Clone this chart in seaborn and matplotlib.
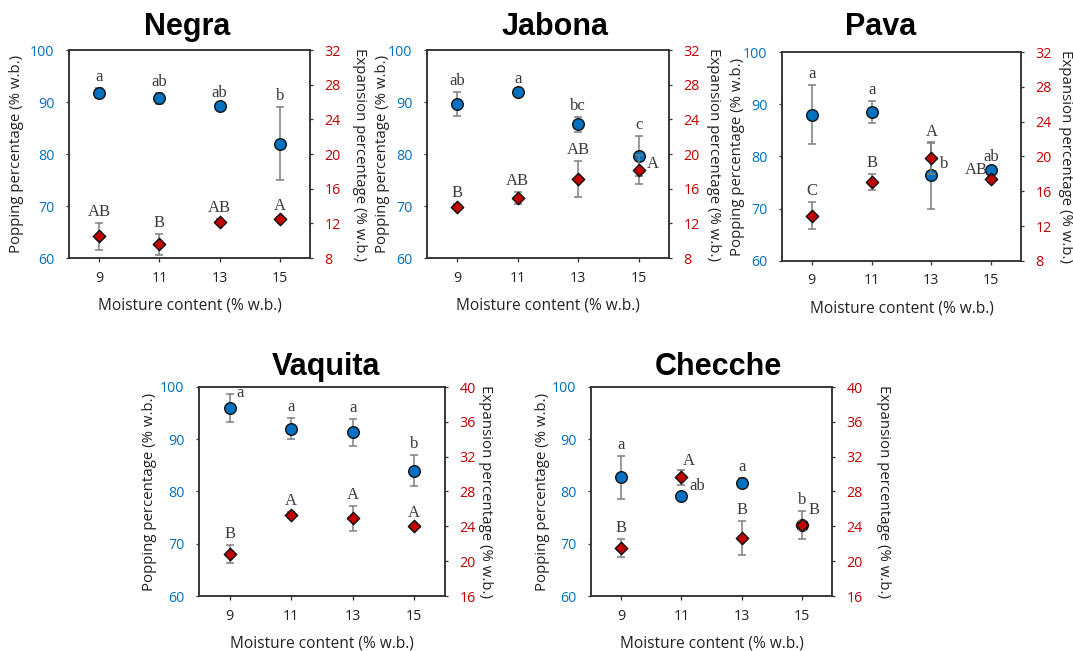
import matplotlib
matplotlib.use("Agg")
import matplotlib.pyplot as plt
import seaborn as sns
import pandas as pd

# moisture levels (% w.b.)
moisture = [9, 11, 13, 15]

# Negra
negra_pop = [91.7, 90.7, 89.3, 82.0]
negra_pop_err = [1.0, 1.1, 0.3, 7.0]
negra_exp = [10.5, 9.6, 12.2, 12.5]
negra_exp_err = [1.55, 1.2, 0.3, 0.2]
negra_pop_letters = ["a", "ab", "ab", "b"]
negra_exp_letters = ["AB", "B", "AB", "A"]

# Jabona
jabona_pop = [89.6, 92.0, 85.7, 79.6]
jabona_pop_err = [2.3, 0.3, 1.5, 3.8]
jabona_exp = [13.9, 14.9, 17.1, 18.2]
jabona_exp_err = [0.3, 0.7, 2.05, 1.7]
jabona_pop_letters = ["ab", "a", "bc", "c"]
jabona_exp_letters = ["B", "AB", "AB", "A"]

# Pava
pava_pop = [88.0, 88.6, 76.4, 77.4]
pava_pop_err = [5.6, 2.1, 6.4, 0.4]
pava_exp = [13.2, 17.1, 19.8, 17.4]
pava_exp_err = [1.55, 0.9, 1.8, 0.3]
pava_pop_letters = ["a", "a", "b", "ab"]
pava_exp_letters = ["C", "B", "A", "AB"]

# Vaquita
vaquita_pop = [96.0, 92.0, 91.3, 84.0]
vaquita_pop_err = [2.65, 2.0, 2.5, 3.0]
vaquita_exp = [20.8, 25.3, 24.9, 24.0]
vaquita_exp_err = [1.0, 0.3, 1.4, 0.3]
vaquita_pop_letters = ["a", "a", "a", "b"]
vaquita_exp_letters = ["B", "A", "A", "A"]

# Checche
checche_pop = [82.7, 79.1, 81.7, 73.6]
checche_pop_err = [4.15, 0.6, 0.8, 2.7]
checche_exp = [21.5, 29.65, 22.7, 24.1]
checche_exp_err = [1.05, 0.85, 1.95, 0.5]
checche_pop_letters = ["a", "ab", "a", "b"]
checche_exp_letters = ["B", "A", "B", "B"]

BLUE = "#0070C0"
RED = "#C00000"
GREY = "#7F7F7F"
SPINE = "#333333"
TEXT = "#222222"
W, H = 1073, 651

sns.set_style("ticks")
plt.rcParams["font.family"] = ["Open Sans", "DejaVu Sans"]

# name, axes box in px (left, right, top, bottom), title centre/baseline (px),
# y-label centres as px offsets from left / right spine, data, right axis range
panels = [
    ("Negra", (69, 310, 50, 258), (187, 35), (-52, 49),
     negra_pop, negra_pop_err, negra_exp, negra_exp_err,
     negra_pop_letters, negra_exp_letters, (8, 32)),
    ("Jabona", (427, 669, 50, 258), (555, 35), (-45, 45),
     jabona_pop, jabona_pop_err, jabona_exp, jabona_exp_err,
     jabona_pop_letters, jabona_exp_letters, (8, 32)),
    ("Pava", (782, 1021, 52, 261), (881, 35), (-45, 45),
     pava_pop, pava_pop_err, pava_exp, pava_exp_err,
     pava_pop_letters, pava_exp_letters, (8, 32)),
    ("Vaquita", (199, 445, 387, 596), (326, 375), (-50, 41),
     vaquita_pop, vaquita_pop_err, vaquita_exp, vaquita_exp_err,
     vaquita_pop_letters, vaquita_exp_letters, (16, 40)),
    ("Checche", (591, 832, 387, 596), (718, 375), (-48, 51),
     checche_pop, checche_pop_err, checche_exp, checche_exp_err,
     checche_pop_letters, checche_exp_letters, (16, 40)),
]

# letters that are not simply placed above the error bar: (dx, dy, ha) in px from the marker
label_moves = {
    ("Jabona", "exp", 3): (14, 6, "center"),
    ("Pava", "pop", 2): (13, 11, "center"),
    ("Pava", "exp", 3): (-3, 9, "right"),
    ("Vaquita", "pop", 0): (10, 15, "center"),
    ("Checche", "pop", 1): (16, 10, "center"),
    ("Checche", "exp", 1): (7, 16, "center"),
    ("Checche", "exp", 3): (12, 15, "center"),
}

letter_font = dict(family=["Liberation Serif", "DejaVu Serif"], fontsize=12, color="#3a3a3a")

fig = plt.figure(figsize=(10.73, 6.51), dpi=100)


def put_letters(ax, name, kind, vals, errs, letters):
    for i, (x, y, e, t) in enumerate(zip(moisture, vals, errs, letters)):
        key = (name, kind, i)
        if key in label_moves:
            dx, dy, ha = label_moves[key]
            ax.annotate(t, xy=(x, y), xytext=(dx, dy), textcoords="offset pixels",
                        ha=ha, va="center", zorder=6, **letter_font)
        else:
            ax.annotate(t, xy=(x, y + e), xytext=(0, 3), textcoords="offset pixels",
                        ha="center", va="bottom", zorder=6, **letter_font)


for (name, (l, r, t, b), (tx, ty), (lab_l, lab_r), pop, pop_err, exp, exp_err,
     pop_letters, exp_letters, exp_lim) in panels:
    ax = fig.add_axes([l / W, 1 - b / H, (r - l) / W, (b - t) / H])
    pop_df = pd.DataFrame({"moisture": moisture, "value": pop})
    ax.errorbar(moisture, pop, yerr=pop_err, fmt="none", ecolor=GREY,
                elinewidth=1.1, capsize=3, capthick=1.1, zorder=2)
    sns.scatterplot(data=pop_df, x="moisture", y="value", ax=ax, color=BLUE,
                    edgecolor="#111111", linewidth=1.0, s=70, marker="o",
                    zorder=3, legend=False)
    ax.set_xlim(8, 16)
    ax.set_ylim(60, 100)
    ax.set_xticks(moisture)
    ax.set_yticks([60, 70, 80, 90, 100])
    ax.set_xlabel("Moisture content (% w.b.)", fontsize=11.2, color=TEXT, labelpad=8.5)
    ax.set_ylabel("")
    ax.tick_params(axis="y", labelcolor=BLUE, labelsize=10.3, length=2.5, width=0.9,
                   color=SPINE, pad=8)
    ax.tick_params(axis="x", labelcolor=TEXT, labelsize=10.3, length=3, width=0.9,
                   color=SPINE, pad=6)
    put_letters(ax, name, "pop", pop, pop_err, pop_letters)

    ax2 = ax.twinx()
    exp_df = pd.DataFrame({"moisture": moisture, "value": exp})
    ax2.errorbar(moisture, exp, yerr=exp_err, fmt="none", ecolor=GREY,
                 elinewidth=1.1, capsize=3, capthick=1.1, zorder=2)
    sns.scatterplot(data=exp_df, x="moisture", y="value", ax=ax2, color=RED,
                    edgecolor="#111111", linewidth=1.0, s=40, marker="D",
                    zorder=3, legend=False)
    ax2.set_ylim(*exp_lim)
    ax2.set_yticks(range(exp_lim[0], exp_lim[1] + 1, 4))
    ax2.set_ylabel("")
    ax2.tick_params(axis="y", labelcolor=RED, labelsize=10.3, length=2.5, width=0.9,
                    color=SPINE, pad=8)
    put_letters(ax2, name, "exp", exp, exp_err, exp_letters)

    for a in (ax, ax2):
        for sp in a.spines.values():
            sp.set_color(SPINE)
            sp.set_linewidth(1.1)

    ymid = 1 - (t + b) / 2 / H
    fig.text((l + lab_l) / W, ymid, "Popping percentage (% w.b.)", rotation=90,
             ha="center", va="center", fontsize=10.8, color=TEXT)
    fig.text((r + lab_r) / W, ymid, "Expansion percentage (% w.b.)", rotation=270,
             ha="center", va="center", fontsize=10.8, color=TEXT)
    fig.text(tx / W, 1 - ty / H, name, ha="center", va="baseline", color="black",
             fontsize=22, fontweight="bold", family=["Liberation Sans", "DejaVu Sans"])

fig.savefig("out.png", dpi=100)
